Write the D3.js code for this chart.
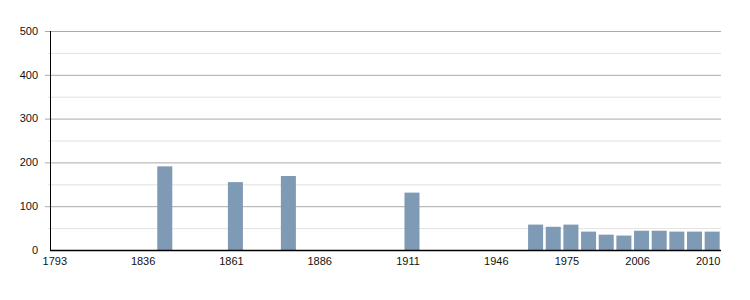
<!DOCTYPE html>
<html>
<head>
<meta charset="utf-8">
<script src="https://cdn.jsdelivr.net/npm/d3@7"></script>
<style>
  body { margin: 0; background: #fff; }
  svg text { font-family: "Liberation Sans", Arial, sans-serif; font-size: 11px; fill: #111; }
</style>
</head>
<body>
<svg id="chart" width="750" height="300"></svg>
<script>
'use strict';

const years = ['1793', '1800', '1806', '1821', '1831', '1836', '1841', '1846', '1851', '1856',
    '1861', '1866', '1872', '1876', '1881', '1886', '1891', '1896', '1901', '1906',
    '1911', '1921', '1926', '1931', '1936', '1946', '1954', '1962', '1968', '1975',
    '1982', '1990', '1999', '2006', '2007', '2008', '2009', '2010'];
const popYears = ['1841', '1861', '1876', '1911', '1962', '1968', '1975', '1982', '1990', '1999', '2006', '2007', '2008', '2009', '2010'];
const popValues = [191, 155, 169, 131, 58, 53, 58, 42, 35, 33, 44, 44, 42, 42, 42];
const xTickLabels = ['1793', '1836', '1861', '1886', '1911', '1946', '1975', '2006', '2010'];
const yMajorTicks = [0, 100, 200, 300, 400, 500];
const yMinorTicks = [50, 150, 250, 350, 450];

const svg = d3.select('#chart');
const margin = { top: 31, right: 29, bottom: 50, left: 50 };
const width = 750 - margin.left - margin.right;
const height = 300 - margin.top - margin.bottom;

const g = svg.append('g')
    .attr('transform', `translate(${margin.left},${margin.top})`);

const x = d3.scaleBand()
    .domain(years)
    .range([0, width])
    .paddingInner(0.15)
    .paddingOuter(0.075);

const y = d3.scaleLinear()
    .domain([0, 500])
    .range([height, 0]);

// grid lines
g.selectAll('line.minor').data(yMinorTicks).enter().append('line')
    .attr('class', 'minor')
    .attr('x1', -2).attr('x2', width)
    .attr('y1', (d) => y(d) + 0.5).attr('y2', (d) => y(d) + 0.5)
    .attr('stroke', '#e2e2e2');

g.selectAll('line.major').data(yMajorTicks.filter((d) => d > 0)).enter().append('line')
    .attr('class', 'major')
    .attr('x1', -5).attr('x2', width)
    .attr('y1', (d) => y(d) + 0.5).attr('y2', (d) => y(d) + 0.5)
    .attr('stroke', '#aaaaaa');

// bars
const data = popYears.map((yr, i) => ({ year: yr, value: popValues[i] }));
g.selectAll('rect.bar').data(data).enter().append('rect')
    .attr('class', 'bar')
    .attr('x', (d) => x(d.year))
    .attr('y', (d) => y(d.value))
    .attr('width', x.bandwidth())
    .attr('height', (d) => height - y(d.value))
    .attr('fill', '#7f9ab4');

// y labels
g.selectAll('text.ylab').data(yMajorTicks).enter().append('text')
    .attr('class', 'ylab')
    .attr('x', -12)
    .attr('y', (d) => y(d))
    .attr('dy', '0.35em')
    .attr('text-anchor', 'end')
    .text((d) => d);

// x labels (sit a little left of the band centre, as in the original)
g.selectAll('text.xlab').data(xTickLabels).enter().append('text')
    .attr('class', 'xlab')
    .attr('x', (d) => x(d) + x.bandwidth() / 2 - 4)
    .attr('y', height + 15)
    .attr('text-anchor', 'middle')
    .text((d) => d);

// axes lines
g.append('line')
    .attr('x1', 0.5).attr('x2', 0.5)
    .attr('y1', 0).attr('y2', height)
    .attr('stroke', '#000');
g.append('line')
    .attr('x1', 0).attr('x2', width)
    .attr('y1', height + 0.5).attr('y2', height + 0.5)
    .attr('stroke', '#000')
    .attr('stroke-width', 1.5);
</script>
</body>
</html>
